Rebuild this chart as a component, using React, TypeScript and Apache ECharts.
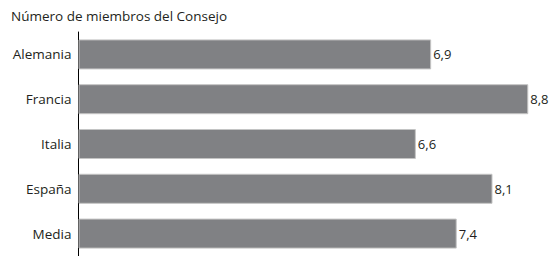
import React, { useEffect, useRef } from "react";
import * as echarts from "echarts";

const title = "Número de miembros del Consejo";
const categories = ["Alemania", "Francia", "Italia", "España", "Media"];
const values = [6.9, 8.8, 6.6, 8.1, 7.4];

export default function App() {
  const ref = useRef<HTMLDivElement>(null);
  useEffect(() => {
    if (!ref.current) return;
    const chart = echarts.init(ref.current, null, { renderer: "svg" });
    const font = "'Open Sans', sans-serif";
    chart.setOption({
      animation: false,
      title: {
        text: title,
        left: 6,
        top: 4,
        textStyle: { fontFamily: font, fontSize: 13.5, fontWeight: "normal", color: "#231f20" },
      },
      grid: { left: 78.5, right: 12.5, top: 32, bottom: -1, containLabel: false },
      xAxis: {
        type: "value",
        min: 0,
        max: 9,
        show: false,
      },
      yAxis: {
        type: "category",
        data: categories,
        inverse: true,
        axisLine: { show: true, lineStyle: { color: "#000", width: 1 } },
        axisTick: { show: false },
        axisLabel: { fontFamily: font, fontSize: 13.5, color: "#231f20", margin: 7 },
      },
      series: [
        {
          type: "bar",
          data: values,
          barCategoryGap: "33%",
          itemStyle: { color: "#808184", borderColor: "#c4c4c4", borderWidth: 1 },
          label: {
            show: true,
            position: "right",
            distance: 2,
            fontFamily: font,
            fontSize: 13,
            color: "#231f20",
            formatter: (p: any) => String(p.value).replace(".", ","),
          },
        },
      ],
    });
    return () => chart.dispose();
  }, []);
  return (
    <div
      ref={ref}
      style={{ position: "absolute", left: 0, top: 0, width: 551, height: 256 }}
    />
  );
}
